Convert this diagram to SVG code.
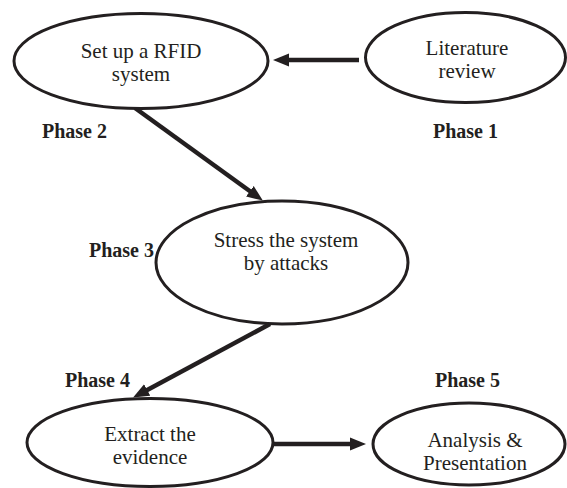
<svg xmlns="http://www.w3.org/2000/svg" width="567" height="488" viewBox="0 0 567 488">
<defs>
<style>
.node ellipse{fill:#fff;stroke:#231f20;stroke-width:3}
.node text{font-family:"Liberation Serif","Times New Roman",serif;font-size:21px;fill:#231f20;text-anchor:middle}
.phase{font-family:"Liberation Serif","Times New Roman",serif;font-size:20px;font-weight:bold;fill:#231f20}
.conn line{stroke:#231f20;stroke-width:4.5;stroke-linecap:butt}
</style>
<marker id="ah" markerUnits="userSpaceOnUse" markerWidth="17" markerHeight="14" viewBox="0 -7 17 14" refX="1" refY="0" orient="auto">
<path d="M0,-6.5 L16,0 L0,6.5 z" fill="#231f20"/>
</marker>
</defs>
<rect width="567" height="488" fill="#fff"/>
<g id="connectors" class="conn">
<line x1="359" y1="60" x2="288" y2="60" marker-end="url(#ah)"/>
<line x1="135" y1="108" x2="250.7" y2="191.8" marker-end="url(#ah)"/>
<line x1="270" y1="324" x2="146.3" y2="390.4" marker-end="url(#ah)"/>
<line x1="273" y1="444" x2="351" y2="444" marker-end="url(#ah)"/>
</g>
<g id="node-rfid" class="node">
<ellipse cx="141" cy="61" rx="127" ry="47.5"/>
<text x="141" y="58">Set up a RFID</text>
<text x="141" y="81">system</text>
</g>
<g id="node-literature" class="node">
<ellipse cx="465.5" cy="57.5" rx="100" ry="45"/>
<text x="467" y="55">Literature</text>
<text x="467" y="78">review</text>
</g>
<g id="node-stress" class="node">
<ellipse cx="282" cy="262.5" rx="126" ry="61.5"/>
<text x="286" y="247">Stress the system</text>
<text x="286" y="270">by attacks</text>
</g>
<g id="node-extract" class="node">
<ellipse cx="150" cy="442.5" rx="123" ry="44"/>
<text x="150" y="441">Extract the</text>
<text x="150" y="464">evidence</text>
</g>
<g id="node-analysis" class="node">
<ellipse cx="469" cy="444" rx="96" ry="41"/>
<text x="475" y="447">Analysis &amp;</text>
<text x="475" y="470">Presentation</text>
</g>
<g id="labels">
<text class="phase" x="433" y="138">Phase 1</text>
<text class="phase" x="42" y="138">Phase 2</text>
<text class="phase" x="89" y="257">Phase 3</text>
<text class="phase" x="65" y="387">Phase 4</text>
<text class="phase" x="435" y="387">Phase 5</text>
</g>
</svg>
